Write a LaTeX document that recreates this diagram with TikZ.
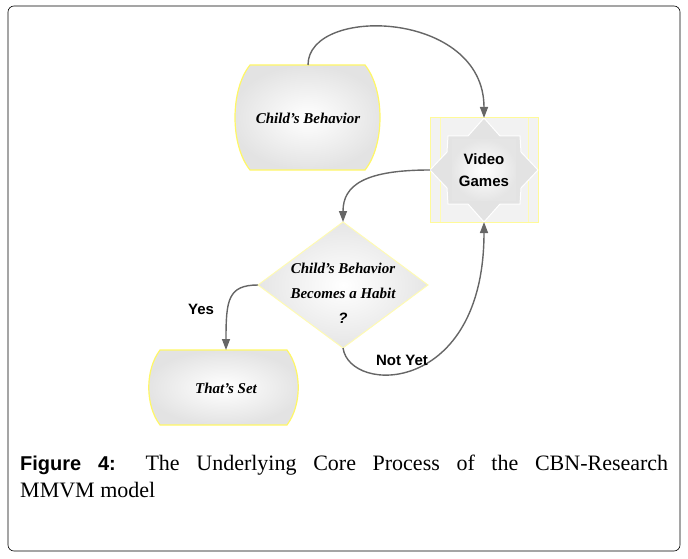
\documentclass[tikz,border=0pt]{standalone}
\usepackage{fontspec}
\setmainfont{Liberation Serif}
\newfontfamily\sansf{Liberation Sans}
\usetikzlibrary{shapes.geometric,arrows.meta}
\begin{document}
\begin{tikzpicture}[x=1pt,y=-1pt,
  lab/.style={font=\fontsize{15}{18}\selectfont\bfseries\itshape,align=center},
  sl/.style={font=\sansf\fontsize{15}{22}\selectfont\bfseries,align=center},
  con/.style={draw=gray!80!black,line width=1.4pt,-{Triangle[length=11pt,width=8pt]}},
  shp/.style={draw=yellow!60!white,line width=1.2pt,inner color=white,outer color=gray!22}]
\useasboundingbox (0,0) rectangle (688,559);
\draw[rounded corners=6pt,line width=0.6pt] (8,6) rectangle (680,551);
% Child's Behavior barrel
\path[shp] (250,65) -- (365,65) .. controls (385,90) and (385,145) .. (365,170) -- (250,170) .. controls (230,145) and (230,90) .. (250,65) -- cycle;
\node[lab] (cb) at (308,118) {Child's Behavior};
\coordinate (cbt) at (308,65);
% Video games
\path[draw=yellow!40!white,line width=1pt,fill=gray!10] (430,118) rectangle (538,222);
\draw[yellow!30!white,line width=0.8pt] (440,118)--(440,222) (528,118)--(528,222);
\path[fill=gray!22,draw=white,line width=1pt] (484,118) -- (500,136) -- (520,136) -- (521,152) -- (538,170) -- (521,188) -- (520,204) -- (500,204) -- (484,222) -- (468,204) -- (448,204) -- (447,188) -- (430,170) -- (447,152) -- (448,136) -- (468,136) -- cycle;
\path[inner color=white,outer color=gray!20] (452,140) rectangle (516,200);
\node[sl] (vg) at (484,170) {Video\\Games};
\coordinate (vgt) at (484,118);
\coordinate (vgb) at (484,222);
\coordinate (vgl) at (430,170);
% Diamond
\path[draw=yellow!30!white,line width=1pt,inner color=white,outer color=gray!20] (343,222) -- (428,285) -- (343,348) -- (258,285) -- cycle;
\node[lab,font=\fontsize{15}{25}\selectfont\bfseries\itshape] (dm) at (343,293) {Child's Behavior\\Becomes a Habit\\{\sansf ?}};
\coordinate (dmt) at (343,222);
\coordinate (dml) at (258,285);
\coordinate (dmb) at (343,348);
% That's Set
\path[shp] (160,350) -- (287,350) .. controls (302,370) and (302,405) .. (287,425) -- (160,425) .. controls (145,405) and (145,370) .. (160,350) -- cycle;
\node[lab] (ts) at (226,388) {That's Set};
\coordinate (tst) at (226,350);
% connectors
\draw[con] (cbt) .. controls (308,5) and (484,10) .. (vgt);
\draw[con] (vgl) .. controls (365,170) and (343,185) .. (dmt);
\draw[con] (dml) .. controls (228,285) and (226,300) .. (tst);
\draw[con] (dmb) .. controls (350,395) and (484,395) .. (vgb);
\node[sl] (yes) at (201,309) {Yes};
\node[sl] (ny) at (402,360) {Not Yet};
% caption
\node[anchor=north west,text width=648pt,align=justify,inner sep=0pt,font=\fontsize{22}{27}\selectfont] (cap) at (20,455) {{\sansf\bfseries\fontsize{20}{27}\selectfont Figure 4:} The Underlying Core Process of the CBN-Research\linebreak MMVM model};
\end{tikzpicture}
\end{document}
